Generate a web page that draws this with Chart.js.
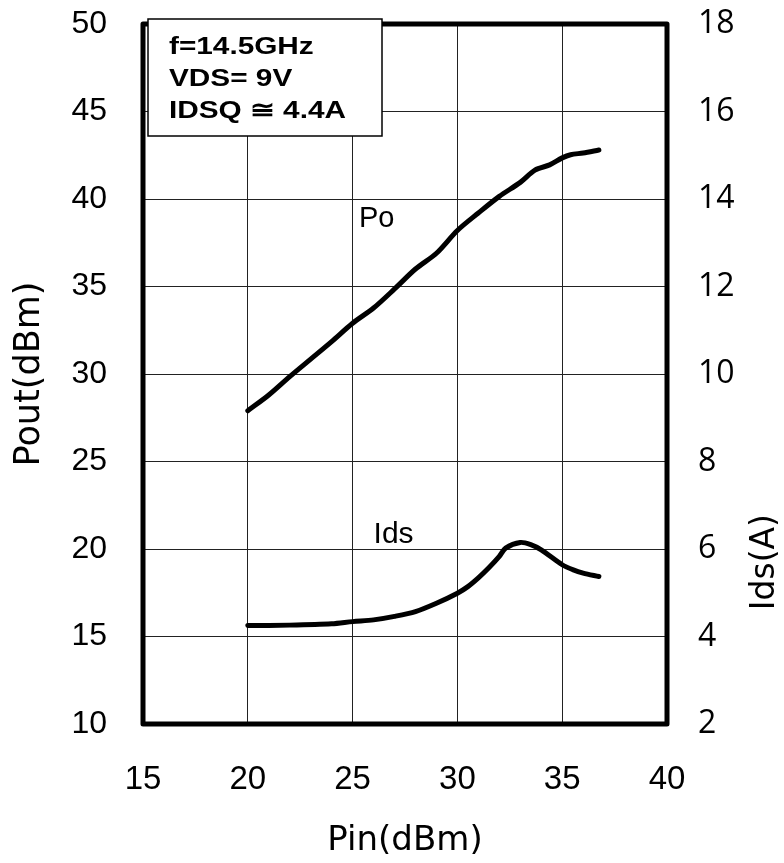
<!DOCTYPE html>
<html>
<head>
<meta charset="utf-8">
<script src="https://cdn.jsdelivr.net/npm/chart.js@4"></script>
<style>
html,body{margin:0;padding:0;background:#fff;}
canvas{display:block;}
</style>
</head>
<body>
<canvas id="c" width="784" height="863"></canvas>
<script>
// ---- data ----
const pinPo = [20, 21, 22, 23, 24, 25, 26, 27, 28, 29, 30, 31, 32, 33, 33.7, 34.4, 35, 35.4, 36, 36.75];
const poValues = [27.9, 28.8, 29.85, 30.85, 31.85, 32.9, 33.77, 34.86, 36.0, 36.9, 38.2, 39.2, 40.15, 40.95, 41.65, 41.95, 42.35, 42.53, 42.63, 42.8];

const pinIds = [20, 22, 24, 25, 26, 27, 28, 29, 30, 30.5, 31, 31.5, 32, 32.3, 33, 33.5, 34, 35, 35.5, 36, 36.75];
const idsValues = [4.25, 4.26, 4.29, 4.34, 4.38, 4.46, 4.57, 4.76, 4.99, 5.14, 5.34, 5.57, 5.83, 6.02, 6.15, 6.10, 5.98, 5.64, 5.53, 5.45, 5.37];

const xTicks = [15, 20, 25, 30, 35, 40];
const poutTicks = [10, 15, 20, 25, 30, 35, 40, 45, 50];
const idsTicks = [2, 4, 6, 8, 10, 12, 14, 16, 18];

const noteLines = ['f=14.5GHz', 'VDS= 9V', 'IDSQ \u2245 4.4A'];
const rightTitle = 'Ids(A)';

const ARIAL = "'Liberation Sans', Arial, sans-serif";
const OPEN = "'Open Sans', 'Noto Sans', sans-serif";
const DEJAVU = "'DejaVu Sans', Verdana, sans-serif";

const frameAndNotes = {
  id: 'frameAndNotes',
  afterDatasetsDraw(chart) {
    const {ctx, chartArea: ca} = chart;
    ctx.save();
    ctx.strokeStyle = '#000';
    ctx.lineWidth = 5;
    ctx.lineJoin = 'round';
    ctx.strokeRect(ca.left, ca.top, ca.right - ca.left, ca.bottom - ca.top);
    ctx.restore();
  },
  afterDraw(chart) {
    const {ctx, chartArea: ca, scales} = chart;
    ctx.save();
    // annotation box
    const bx = ca.left + 5, by = ca.top - 5, bw = 234, bh = 117;
    ctx.fillStyle = '#fff';
    ctx.fillRect(bx, by, bw, bh);
    ctx.strokeStyle = '#000';
    ctx.lineWidth = 1.5;
    ctx.strokeRect(bx, by, bw, bh);
    ctx.fillStyle = '#000';
    ctx.textBaseline = 'alphabetic';
    ctx.textAlign = 'left';
    noteLines.forEach((t, i) => {
      ctx.save();
      ctx.translate(bx + 21, by + 35 + i * 32);
      ctx.scale(1.24, 1);
      ctx.font = "bold 24px " + ARIAL;
      ctx.fillText(t, 0, 0);
      ctx.restore();
    });
    // series labels
    ctx.font = "29px " + ARIAL;
    ctx.fillText('Po', scales.x.getPixelForValue(25.3), scales.y.getPixelForValue(38.42));
    ctx.font = "30px " + ARIAL;
    ctx.fillText('Ids', scales.x.getPixelForValue(26.0), scales.y1.getPixelForValue(6.14));
    // right axis title, reading bottom to top
    const s1 = scales.y1;
    ctx.save();
    ctx.translate(s1.right - 19, s1.getPixelForValue(5.7));
    ctx.rotate(-Math.PI / 2);
    ctx.textAlign = 'center';
    ctx.textBaseline = 'middle';
    ctx.font = "33px " + DEJAVU;
    ctx.fillText(rightTitle, 0, 0);
    ctx.restore();
    ctx.restore();
  }
};

const pts = (xs, ys) => xs.map((x, i) => ({x, y: ys[i]}));

new Chart(document.getElementById('c'), {
  type: 'line',
  data: {
    datasets: [
      {
        label: 'Po',
        data: pts(pinPo, poValues),
        yAxisID: 'y',
        borderColor: '#000',
        borderWidth: 5,
        pointRadius: 0,
        tension: 0.3,
        borderCapStyle: 'round',
        borderJoinStyle: 'round',
        fill: false
      },
      {
        label: 'Ids',
        data: pts(pinIds, idsValues),
        yAxisID: 'y1',
        borderColor: '#000',
        borderWidth: 5,
        pointRadius: 0,
        tension: 0.3,
        borderCapStyle: 'round',
        borderJoinStyle: 'round',
        fill: false
      }
    ]
  },
  options: {
    responsive: false,
    animation: false,
    layout: {padding: {top: 24, left: 0, right: 0, bottom: 0}},
    plugins: {legend: {display: false}, tooltip: {enabled: false}},
    scales: {
      x: {
        type: 'linear',
        min: 15, max: 40,
        afterBuildTicks: s => { s.ticks = xTicks.map(v => ({value: v})); },
        afterFit: s => { s.height = 139; s.paddingLeft = 0; s.paddingRight = 0; },
        ticks: {color: '#000', font: {family: ARIAL, size: 33}, padding: 36, maxRotation: 0},
        grid: {color: '#222', lineWidth: 1, drawTicks: false},
        border: {display: false},
        title: {display: true, text: 'Pin(dBm)', color: '#000', font: {family: DEJAVU, size: 34}, padding: {top: 0, bottom: 1}}
      },
      y: {
        position: 'left',
        min: 10, max: 50,
        afterBuildTicks: s => { s.ticks = poutTicks.map(v => ({value: v})); },
        afterFit: s => { s.width = 143; s.paddingTop = 0; s.paddingBottom = 0; },
        ticks: {color: '#000', font: {family: ARIAL, size: 32}, padding: 36},
        grid: {color: '#222', lineWidth: 1, drawTicks: false},
        border: {display: false},
        title: {display: true, text: 'Pout(dBm)', color: '#000', font: {family: DEJAVU, size: 35}, padding: {top: 9, bottom: 0}}
      },
      y1: {
        position: 'right',
        min: 2, max: 18,
        afterBuildTicks: s => { s.ticks = idsTicks.map(v => ({value: v})); },
        afterFit: s => { s.width = 117; s.paddingTop = 0; s.paddingBottom = 0; },
        ticks: {color: '#000', font: {family: OPEN, size: 32}, padding: 31},
        grid: {drawOnChartArea: false, drawTicks: false},
        border: {display: false},
        title: {display: false}
      }
    }
  },
  plugins: [frameAndNotes]
});
</script>
</body>
</html>
